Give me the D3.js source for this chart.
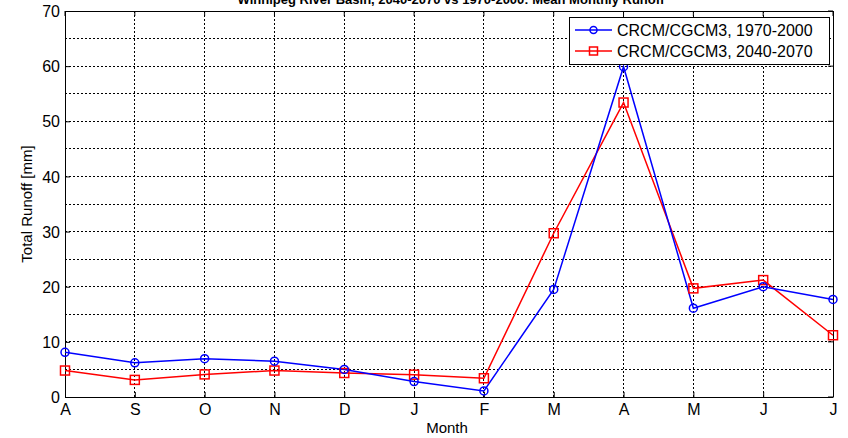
<!DOCTYPE html>
<html>
<head>
<meta charset="utf-8">
<script src="https://cdn.jsdelivr.net/npm/d3@7"></script>
<style>
  body { margin: 0; background: #fff; }
  svg { display: block; font-family: "Liberation Sans", Arial, sans-serif; }
</style>
</head>
<body>
<svg id="chart" width="848" height="438"></svg>
<script>
const months = ["A", "S", "O", "N", "D", "J", "F", "M", "A", "M", "J", "J"];
const past = [8.1, 6.2, 6.95, 6.5, 5.0, 2.8, 1.1, 19.5, 59.9, 16.1, 20.0, 17.7];
const future = [4.8, 3.1, 4.1, 4.8, 4.35, 4.05, 3.4, 29.7, 53.4, 19.7, 21.2, 11.2];
const yTicks = [0, 10, 20, 30, 40, 50, 60, 70];
const yGrid = [5, 10, 15, 20, 25, 30, 35, 40, 45, 50, 55, 60, 65];

const plotLeft = 65, plotRight = 833, plotTop = 11, plotBottom = 397;

const svg = d3.select("#chart");

const x = d3.scaleLinear().domain([0, months.length - 1]).range([plotLeft, plotRight]);
const y = d3.scaleLinear().domain([0, 70]).range([plotBottom, plotTop]);

// grid
svg.append("g").selectAll("line").data(yGrid).enter().append("line")
    .attr("x1", plotLeft).attr("x2", plotRight)
    .attr("y1", d => y(d)).attr("y2", d => y(d))
    .attr("stroke", "#000").attr("stroke-width", 1)
    .attr("stroke-dasharray", "2,2").attr("shape-rendering", "crispEdges");

svg.append("g").selectAll("line").data(months.slice(1, -1)).enter().append("line")
    .attr("x1", (d, i) => x(i + 1)).attr("x2", (d, i) => x(i + 1))
    .attr("y1", plotTop).attr("y2", plotBottom)
    .attr("stroke", "#000").attr("stroke-width", 1)
    .attr("stroke-dasharray", "2,2").attr("shape-rendering", "crispEdges");

// axes
const yAxis = svg.append("g")
    .attr("transform", "translate(" + plotLeft + ",0)")
    .call(d3.axisLeft(y).tickValues(yTicks).tickSizeInner(-5).tickSizeOuter(0).tickPadding(5));
const xAxis = svg.append("g")
    .attr("transform", "translate(0," + plotBottom + ")")
    .call(d3.axisBottom(x).tickValues(d3.range(months.length)).tickFormat(i => months[i])
        .tickSizeInner(-5).tickSizeOuter(0).tickPadding(5));

[yAxis, xAxis].forEach(a => {
    a.selectAll("text").attr("fill", "#000").style("font-size", "16px");
    a.selectAll("line").attr("stroke", "#000");
    a.select(".domain").attr("stroke", "#000");
});
yAxis.selectAll("text").attr("dy", "0.35em");
xAxis.selectAll("text").attr("dy", "0.8em");

// box top / right
svg.append("line").attr("x1", plotLeft).attr("x2", plotRight).attr("y1", plotTop + 0.5).attr("y2", plotTop + 0.5)
    .attr("stroke", "#000");
svg.append("line").attr("x1", plotRight + 0.5).attr("x2", plotRight + 0.5).attr("y1", plotTop).attr("y2", plotBottom)
    .attr("stroke", "#000");
// right/top ticks
svg.append("g").selectAll("line").data(yTicks).enter().append("line")
    .attr("x1", plotRight).attr("x2", plotRight - 5).attr("y1", d => y(d)).attr("y2", d => y(d))
    .attr("stroke", "#000");
svg.append("g").selectAll("line").data(months).enter().append("line")
    .attr("x1", (d, i) => x(i)).attr("x2", (d, i) => x(i)).attr("y1", plotTop).attr("y2", plotTop + 5)
    .attr("stroke", "#000");

// lines
const line = d3.line().x((d, i) => x(i)).y(d => y(d));

svg.append("path").datum(future).attr("d", line)
    .attr("fill", "none").attr("stroke", "#ff0000").attr("stroke-width", 1.5);
svg.append("path").datum(past).attr("d", line)
    .attr("fill", "none").attr("stroke", "#0000ff").attr("stroke-width", 1.5);

svg.append("g").selectAll("rect").data(future).enter().append("rect")
    .attr("x", (d, i) => x(i) - 4.5).attr("y", d => y(d) - 4.5)
    .attr("width", 9).attr("height", 9)
    .attr("fill", "none").attr("stroke", "#ff0000").attr("stroke-width", 1.5);
svg.append("g").selectAll("circle").data(past).enter().append("circle")
    .attr("cx", (d, i) => x(i)).attr("cy", d => y(d)).attr("r", 4)
    .attr("fill", "none").attr("stroke", "#0000ff").attr("stroke-width", 1.5);

// title (cut off at top, as in the original figure)
svg.append("text")
    .attr("x", (plotLeft + plotRight) / 2 + 2).attr("y", 4)
    .attr("text-anchor", "middle")
    .style("font-size", "13px").style("font-weight", "bold")
    .text("Winnipeg River Basin, 2040-2070 vs 1970-2000: Mean Monthly Runoff");

// axis labels
svg.append("text")
    .attr("x", 447).attr("y", 433)
    .attr("text-anchor", "middle").style("font-size", "15px")
    .text("Month");
svg.append("text")
    .attr("transform", "translate(32," + ((plotTop + plotBottom) / 2) + ") rotate(-90)")
    .attr("text-anchor", "middle").style("font-size", "15px")
    .text("Total Runoff [mm]");

// legend
const lg = svg.append("g").attr("transform", "translate(569,17)");
lg.append("rect").attr("x", 0.5).attr("y", 0.5).attr("width", 260).attr("height", 47)
    .attr("fill", "#fff").attr("stroke", "#000");
const entries = [
    { label: "CRCM/CGCM3, 1970-2000", color: "#0000ff", shape: "circle" },
    { label: "CRCM/CGCM3, 2040-2070", color: "#ff0000", shape: "square" }
];
entries.forEach((e, i) => {
    const cy = 13 + i * 21;
    lg.append("line").attr("x1", 6).attr("x2", 43).attr("y1", cy).attr("y2", cy)
        .attr("stroke", e.color).attr("stroke-width", 1.5);
    if (e.shape === "circle") {
        lg.append("circle").attr("cx", 24.5).attr("cy", cy).attr("r", 3.5)
            .attr("fill", "none").attr("stroke", e.color).attr("stroke-width", 1.5);
    } else {
        lg.append("rect").attr("x", 20.5).attr("y", cy - 4).attr("width", 8).attr("height", 8)
            .attr("fill", "none").attr("stroke", e.color).attr("stroke-width", 1.5);
    }
    lg.append("text").attr("x", 48).attr("y", cy).attr("dy", "0.36em")
        .style("font-size", "16px").attr("fill", "#000").text(e.label);
});
</script>
</body>
</html>
